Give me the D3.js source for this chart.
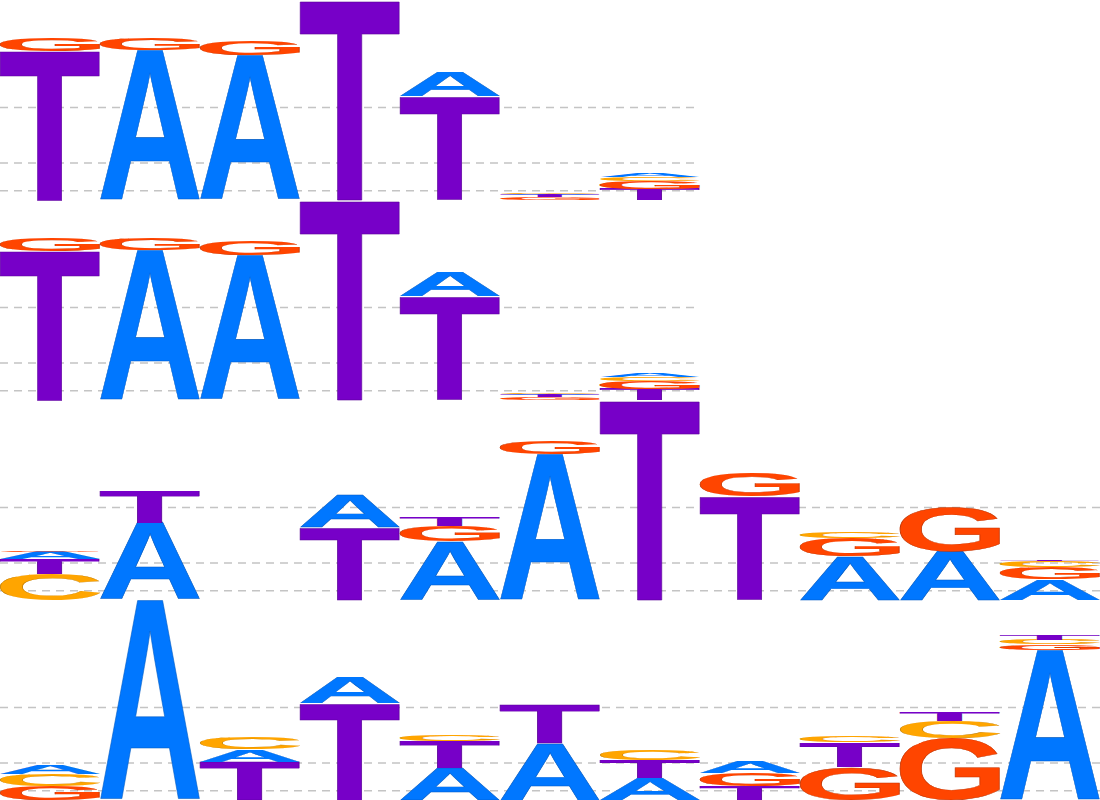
<!DOCTYPE html>
<html>
<head>
<meta charset="utf-8">
<script src="https://cdn.jsdelivr.net/npm/d3@7"></script>
<style>
  html, body { margin: 0; padding: 0; background: #ffffff; }
  svg { display: block; }
</style>
</head>
<body>
<svg id="chart" width="1100" height="800"></svg>
<script>
// Bases (order of values in each column)
const bases = ["A", "C", "G", "T"];
const baseColors = ["#0077ff", "#ffa500", "#ff4500", "#7700c8"];

// Information content (bits) per column, values ordered [A, C, G, T]
const row1 = [
  [0.000, 0.000, 0.137, 1.609],
  [1.620, 0.000, 0.126, 0.000],
  [1.566, 0.000, 0.151, 0.000],
  [0.000, 0.000, 0.000, 2.160],
  [0.270, 0.000, 0.000, 1.116],
  [0.011, 0.008, 0.029, 0.027],
  [0.036, 0.037, 0.086, 0.122]
];
const row2 = [
  [0.000, 0.000, 0.137, 1.609],
  [1.620, 0.000, 0.126, 0.000],
  [1.566, 0.000, 0.151, 0.000],
  [0.000, 0.000, 0.000, 2.160],
  [0.270, 0.000, 0.000, 1.116],
  [0.011, 0.008, 0.029, 0.027],
  [0.036, 0.037, 0.086, 0.122]
];
const row3 = [
  [0.079, 0.281, 0.008, 0.162],
  [0.835, 0.000, 0.000, 0.342],
  [0.000, 0.000, 0.000, 0.000],
  [0.353, 0.000, 0.000, 0.781],
  [0.630, 0.005, 0.173, 0.091],
  [1.577, 0.000, 0.140, 0.000],
  [0.000, 0.000, 0.000, 2.160],
  [0.000, 0.000, 0.259, 1.116],
  [0.468, 0.072, 0.198, 0.000],
  [0.522, 0.000, 0.486, 0.000],
  [0.227, 0.065, 0.133, 0.018]
];
const row4 = [
  [0.090, 0.126, 0.151, 0.000],
  [2.160, 0.000, 0.000, 0.000],
  [0.130, 0.128, 0.000, 0.414],
  [0.281, 0.000, 0.000, 1.044],
  [0.342, 0.065, 0.000, 0.295],
  [0.612, 0.000, 0.000, 0.421],
  [0.234, 0.116, 0.000, 0.198],
  [0.119, 0.000, 0.137, 0.151],
  [0.000, 0.072, 0.360, 0.270],
  [0.000, 0.187, 0.666, 0.094],
  [1.620, 0.050, 0.060, 0.048]
];
const rows = [row1, row2, row3, row4];

// Axis maximum and gridline values (bits)
const yMax = 2.16;
const gridValues = [1.0, 0.4, 0.1];
const maxColumns = 11;

const W = 1100, H = 800;
const rowH = H / rows.length;
const svg = d3.select("#chart");

const x = d3.scaleBand().domain(d3.range(maxColumns)).range([0, W]).padding(0);
const color = d3.scaleOrdinal().domain(bases).range(baseColors);

// Tight glyph metrics via canvas
const FONT_FAMILY = "'Liberation Sans', Arial, Helvetica, sans-serif";
const FONT_SIZE = 200;
const ctx = document.createElement("canvas").getContext("2d");
ctx.font = `bold ${FONT_SIZE}px ${FONT_FAMILY}`;
const metrics = {};
bases.forEach(b => {
  const m = ctx.measureText(b);
  metrics[b] = {
    left: m.actualBoundingBoxLeft,
    right: m.actualBoundingBoxRight,
    ascent: m.actualBoundingBoxAscent,
    descent: m.actualBoundingBoxDescent
  };
});

rows.forEach((row, ri) => {
  const top = ri * rowH;
  const y = d3.scaleLinear().domain([0, yMax]).range([top + rowH, top]);
  const g = svg.append("g").attr("class", "row row" + (ri + 1));

  // dashed gridlines behind the letters
  g.append("g").selectAll("line")
    .data(gridValues)
    .join("line")
    .attr("x1", 0)
    .attr("x2", x(row.length - 1) + x.bandwidth())
    .attr("y1", d => y(d))
    .attr("y2", d => y(d))
    .attr("stroke", "#c4c4c4")
    .attr("stroke-width", 1.5)
    .attr("stroke-dasharray", "8,6");

  // stacks: largest at bottom
  const letters = [];
  row.forEach((vals, ci) => {
    const items = bases.map((b, k) => ({ base: b, v: vals[k] }))
      .filter(d => d.v > 0)
      .sort((a, b) => b.v - a.v);
    let cum = 0;
    items.forEach(it => {
      letters.push({ base: it.base, col: ci, y0: cum, y1: cum + it.v });
      cum += it.v;
    });
  });

  g.append("g").selectAll("text")
    .data(letters)
    .join("text")
    .text(d => d.base)
    .attr("x", 0)
    .attr("y", 0)
    .style("font-family", FONT_FAMILY)
    .style("font-weight", "bold")
    .style("font-size", FONT_SIZE + "px")
    .attr("fill", d => color(d.base))
    .attr("stroke", d => d3.color(color(d.base)).darker(0.8))
    .attr("stroke-width", d => (y(d.y0) - y(d.y1)) > 4 ? 0.6 : 0)
    .attr("vector-effect", "non-scaling-stroke")
    .attr("transform", d => {
      const m = metrics[d.base];
      const gw = m.left + m.right;
      const gh = m.ascent + m.descent;
      const bx = x(d.col), bw = x.bandwidth();
      const by = y(d.y1), bh = y(d.y0) - y(d.y1);
      const sx = bw / gw, sy = bh / gh;
      return `translate(${bx + m.left * sx},${by + m.ascent * sy}) scale(${sx},${sy})`;
    });
});
</script>
</body>
</html>
